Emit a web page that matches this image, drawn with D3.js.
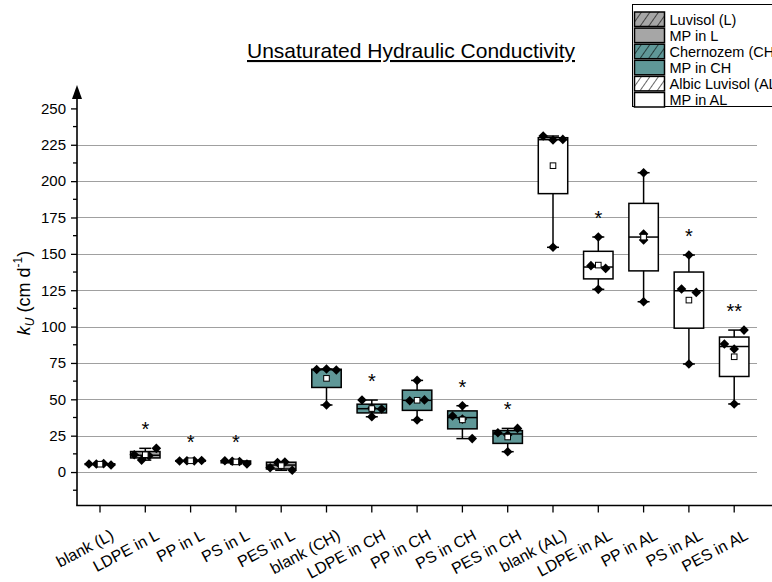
<!DOCTYPE html>
<html>
<head>
<meta charset="utf-8">
<script src="https://cdn.jsdelivr.net/npm/d3@7"></script>
<style>
  html, body { margin: 0; padding: 0; background: #fff; }
  svg { display: block; font-family: Arial, "Liberation Sans", Helvetica, sans-serif; }
</style>
</head>
<body>
<svg id="chart" width="772" height="582"></svg>
<script>
// Treatments along the x axis
const categories = [
  "blank (L)", "LDPE in L", "PP in L", "PS in L", "PES in L",
  "blank (CH)", "LDPE in CH", "PP in CH", "PS in CH", "PES in CH",
  "blank (AL)", "LDPE in AL", "PP in AL", "PS in AL", "PES in AL"
];
// Soil of each treatment
const soils = ["L", "L", "L", "L", "L", "CH", "CH", "CH", "CH", "CH", "AL", "AL", "AL", "AL", "AL"];
// Replicate measurements of k_U (cm d^-1), in measurement order
const replicates = [
  [5.5, 5.5, 5.8, 4.8],
  [11.9, 8.2, 11.2, 16.3],
  [7.6, 7.8, 7.7, 7.9],
  [7.8, 7.4, 7.2, 5.5],
  [3.0, 6.6, 6.9, 1.2],
  [70.5, 70.8, 70.2, 46.1],
  [49.5, 43.8, 43.3, 38.0],
  [63.0, 49.0, 49.6, 35.8],
  [38.5, 36.4, 23.0, 45.6],
  [27.0, 25.4, 30.0, 14.0],
  [231.0, 228.3, 228.7, 154.5],
  [161.6, 141.9, 140.0, 125.6],
  [205.8, 163.6, 159.5, 117.1],
  [149.2, 125.8, 123.5, 74.3],
  [88.0, 84.6, 97.6, 46.8]
];
// Significance marks versus the blank of the same soil
const significance = ["", "*", "*", "*", "", "", "*", "", "*", "*", "", "*", "", "*", "**"];
// Y axis ticks
const yTicks = [0, 25, 50, 75, 100, 125, 150, 175, 200, 225, 250];
const gridValues = [0, 25, 50, 75, 100, 125, 150, 175, 200, 225];
// Legend entries
const legendLabels = ["Luvisol (L)", "MP in L", "Chernozem (CH)", "MP in CH", "Albic Luvisol (AL)", "MP in AL"];
const legendSoils = ["L", "L", "CH", "CH", "AL", "AL"];
const legendHatched = [true, false, true, false, true, false];

const soilFill = { L: "#a6a6a6", CH: "#5f9898", AL: "#ffffff" };

const svg = d3.select("#chart");

const x = d3.scaleBand().domain(categories).range([77.35, 756.85]).paddingInner(0).paddingOuter(0);
const y = d3.scaleLinear().domain([-23, 250]).range([505.5, 108.4]);
const axisX = 77;
const axisY = y(-23);
const boxW = x.bandwidth() * 0.65;
const capW = 12;
const binWidth = 20;

// hatch pattern for legend swatches of the blank soils
const defs = svg.append("defs");
Object.entries(soilFill).forEach(([k, c]) => {
  const p = defs.append("pattern")
    .attr("id", "hatch-" + k)
    .attr("patternUnits", "userSpaceOnUse")
    .attr("width", 7).attr("height", 7)
    .attr("patternTransform", "rotate(35)");
  p.append("rect").attr("width", 7).attr("height", 7).attr("fill", c);
  p.append("line").attr("x1", 0).attr("y1", 0).attr("x2", 0).attr("y2", 7)
    .attr("stroke", "#000").attr("stroke-width", 1.2);
});

// horizontal grid
svg.append("g").selectAll("line").data(gridValues).join("line")
  .attr("x1", axisX).attr("x2", 757)
  .attr("y1", d => Math.round(y(d)) + 0.5).attr("y2", d => Math.round(y(d)) + 0.5)
  .attr("stroke", "#a0a0a0").attr("stroke-width", 1);

// title
svg.append("text")
  .attr("x", 411).attr("y", 58)
  .attr("text-anchor", "middle")
  .attr("font-size", 21)
  .attr("text-decoration", "underline")
  .text("Unsaturated Hydraulic Conductivity");

// y axis
const yAxis = d3.axisLeft(y).tickValues(yTicks).tickSize(6).tickPadding(5);
const gy = svg.append("g").attr("transform", `translate(${axisX},0)`).call(yAxis);
gy.select(".domain").remove();
gy.selectAll("text").attr("font-size", 15).attr("font-family", "Arial, 'Liberation Sans', sans-serif").attr("fill", "#000");
gy.selectAll("line").attr("stroke", "#000").attr("stroke-width", 1.3);
const minorTicks = d3.range(-12.5, 250, 25);
svg.append("g").selectAll("line").data(minorTicks).join("line")
  .attr("x1", axisX - 4).attr("x2", axisX)
  .attr("y1", d => y(d)).attr("y2", d => y(d))
  .attr("stroke", "#000").attr("stroke-width", 1.3);
svg.append("line")
  .attr("x1", axisX).attr("x2", axisX)
  .attr("y1", axisY).attr("y2", 97)
  .attr("stroke", "#000").attr("stroke-width", 1.6);
svg.append("path")
  .attr("d", `M${axisX},85 L${axisX + 5},99 L${axisX - 5},99 Z`)
  .attr("fill", "#000");

// y axis title
const ylab = svg.append("text")
  .attr("transform", "translate(30,293) rotate(-90)")
  .attr("text-anchor", "middle")
  .attr("font-size", 18);
ylab.append("tspan").attr("font-style", "italic").text("k");
ylab.append("tspan").attr("font-style", "italic").attr("font-size", 12).attr("dy", 4).text("U");
ylab.append("tspan").attr("dy", -4).text(" (cm d");
ylab.append("tspan").attr("font-size", 12).attr("dy", -8).text("-1");
ylab.append("tspan").attr("dy", 8).text(")");

// x axis
const xAxis = d3.axisBottom(x).tickSize(7).tickFormat("");
const gx = svg.append("g").attr("transform", `translate(0,${axisY})`).call(xAxis);
gx.select(".domain").remove();
gx.selectAll("line").attr("stroke", "#000").attr("stroke-width", 1.3);
svg.append("line")
  .attr("x1", axisX - 0.8).attr("x2", 772)
  .attr("y1", axisY).attr("y2", axisY)
  .attr("stroke", "#000").attr("stroke-width", 1.6);
svg.append("g").selectAll("text").data(categories).join("text")
  .attr("transform", d => `translate(${x(d) + x.bandwidth() / 2 + 15},${axisY + 33}) rotate(-28)`)
  .attr("text-anchor", "end")
  .attr("font-size", 16)
  .text(d => d);

// box statistics from the replicates (hinges = medians of lower/upper halves)
const stats = replicates.map((vals, i) => {
  const s = vals.slice().sort(d3.ascending);
  const n = s.length;
  const lower = s.slice(0, Math.floor(n / 2));
  const upper = s.slice(Math.ceil(n / 2));
  return {
    cat: categories[i], soil: soils[i], vals,
    min: s[0], max: s[n - 1],
    q1: d3.median(lower), med: d3.median(s), q3: d3.median(upper),
    mean: d3.mean(s), sig: significance[i]
  };
});

const boxes = svg.append("g").selectAll("g").data(stats).join("g")
  .attr("transform", d => `translate(${x(d.cat) + x.bandwidth() / 2},0)`);

// whiskers
boxes.append("line")
  .attr("x1", 0).attr("x2", 0).attr("y1", d => y(d.max)).attr("y2", d => y(d.min))
  .attr("stroke", "#000").attr("stroke-width", 1.5);
boxes.append("line")
  .attr("x1", -capW / 2).attr("x2", capW / 2).attr("y1", d => y(d.max)).attr("y2", d => y(d.max))
  .attr("stroke", "#000").attr("stroke-width", 1.5);
boxes.append("line")
  .attr("x1", -capW / 2).attr("x2", capW / 2).attr("y1", d => y(d.min)).attr("y2", d => y(d.min))
  .attr("stroke", "#000").attr("stroke-width", 1.5);
// box
boxes.append("rect")
  .attr("x", -boxW / 2).attr("width", boxW)
  .attr("y", d => y(d.q3)).attr("height", d => Math.max(0.5, y(d.q1) - y(d.q3)))
  .attr("fill", d => soilFill[d.soil])
  .attr("stroke", "#000").attr("stroke-width", 1.5);
boxes.append("line")
  .attr("x1", -boxW / 2).attr("x2", boxW / 2).attr("y1", d => y(d.med)).attr("y2", d => y(d.med))
  .attr("stroke", "#000").attr("stroke-width", 1.5);

// replicate points, spread side by side within value bins
const diamond = "M0,-4.8L4.8,0L0,4.8L-4.8,0Z";
boxes.each(function (d) {
  const bins = d3.group(d.vals.map((v, i) => ({ v, i })), p => Math.floor(p.v / binWidth));
  const pts = [];
  bins.forEach(list => {
    const k = list.length;
    list.forEach((p, j) => pts.push({ v: p.v, dx: ((j + 0.5) / k - 0.5) * boxW }));
  });
  d3.select(this).selectAll("path.pt").data(pts).join("path")
    .attr("class", "pt")
    .attr("d", diamond)
    .attr("transform", p => `translate(${p.dx},${y(p.v)})`)
    .attr("fill", "#000");
});

// mean marker
boxes.append("rect")
  .attr("x", -2.8).attr("width", 5.6)
  .attr("y", d => y(d.mean) - 2.8).attr("height", 5.6)
  .attr("fill", "#fff").attr("stroke", "#000").attr("stroke-width", 1);

// significance stars
boxes.append("text")
  .attr("text-anchor", "middle")
  .attr("font-size", 20)
  .attr("y", d => y(d.max) - 22 + 10)
  .text(d => d.sig);

// legend
const lg = svg.append("g");
lg.append("rect").attr("x", 632.5).attr("y", 4.5).attr("width", 150).attr("height", 102)
  .attr("fill", "#fff").attr("stroke", "#000").attr("stroke-width", 1);
const rows = lg.selectAll("g").data(legendLabels).join("g")
  .attr("transform", (d, i) => `translate(0,${12 + i * 16.1})`);
rows.append("rect")
  .attr("x", 634.5).attr("y", 0).attr("width", 30).attr("height", 14.5)
  .attr("fill", (d, i) => legendHatched[i] ? `url(#hatch-${legendSoils[i]})` : soilFill[legendSoils[i]])
  .attr("stroke", "#000").attr("stroke-width", 1.5);
rows.append("text")
  .attr("x", 669.5).attr("y", 12.5)
  .attr("font-size", 14.5)
  .text(d => d);
</script>
</body>
</html>
